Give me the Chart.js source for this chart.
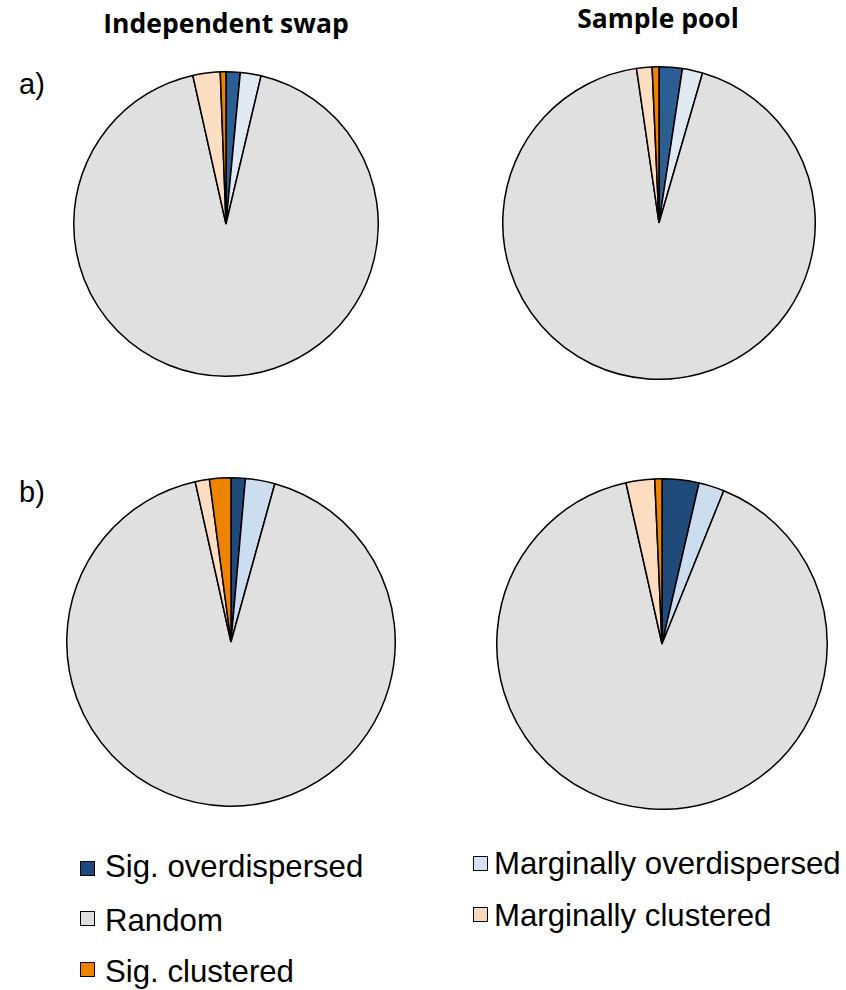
<!DOCTYPE html>
<html>
<head>
<meta charset="utf-8">
<script src="https://cdn.jsdelivr.net/npm/chart.js@4.4.1/dist/chart.umd.min.js"></script>
<style>
  html, body { margin: 0; padding: 0; background: #fff; }
  body { width: 846px; height: 990px; position: relative; font-family: "Liberation Sans", Arial, sans-serif; overflow: hidden; }
  .title { position: absolute; font-family: "Open Sans", sans-serif; font-weight: bold; font-size: 26.5px; line-height: 1; color: #000; transform: translateX(-50%); white-space: nowrap; }
  .panel { position: absolute; font-size: 29px; line-height: 1; color: #000; }
  .box { position: absolute; }
  .legtext { position: absolute; font-size: 31.2px; line-height: 1; color: #000; white-space: nowrap; }
  .sw { position: absolute; width: 13px; height: 13px; border: 1.5px solid #000; }
</style>
</head>
<body>
<div class="title" style="left:226px; top:10px;">Independent swap</div>
<div class="title" style="left:658px; top:5px;">Sample pool</div>
<div class="panel" style="left:19px; top:70px;">a)</div>
<div class="panel" style="left:19px; top:478px;">b)</div>

<div class="box" style="left:73px; top:71px; width:306px; height:306px;"><canvas id="pieA1"></canvas></div>
<div class="box" style="left:502px; top:66px; width:314px; height:314px;"><canvas id="pieA2"></canvas></div>
<div class="box" style="left:66px; top:477px; width:330px; height:330px;"><canvas id="pieB1"></canvas></div>
<div class="box" style="left:496px; top:478px; width:332px; height:332px;"><canvas id="pieB2"></canvas></div>

<div id="legend"></div>

<script>
const categories = ['Sig. overdispersed', 'Marginally overdispersed', 'Random', 'Marginally clustered', 'Sig. clustered'];

// percent of communities in each category (clockwise from top)
const swapA = [1.5, 2.2, 92.8, 2.9, 0.6];
const poolA = [2.4, 2.1, 93.2, 1.6, 0.7];
const swapB = [1.4, 2.9, 92.2, 1.4, 2.1];
const poolB = [3.6, 2.5, 90.4, 2.8, 0.7];

const colorsTop = ['#2C5E94', '#E1E9F3', '#E0E0E0', '#FCDEC3', '#EF8200'];
const colorsBottom = ['#1F4A7A', '#CDDDF0', '#E0E0E0', '#FCDDC2', '#EE8300'];
const legendColors = ['#1F497D', '#D6E2F2', '#DEDEDE', '#FBD8BB', '#EE8100'];

function drawPie(id, values, colors) {
    const ctx = document.getElementById(id).getContext('2d');
    return new Chart(ctx, {
        type: 'pie',
        data: {
            labels: categories,
            datasets: [{
                data: values,
                backgroundColor: colors,
                borderColor: '#000',
                borderWidth: 1.5
            }]
        },
        options: {
            responsive: true,
            maintainAspectRatio: true,
            aspectRatio: 1,
            animation: false,
            layout: { padding: 0 },
            plugins: {
                legend: { display: false },
                tooltip: { enabled: false }
            }
        }
    });
}

drawPie('pieA1', swapA, colorsTop);
drawPie('pieA2', poolA, colorsTop);
drawPie('pieB1', swapB, colorsBottom);
drawPie('pieB2', poolB, colorsBottom);

// legend, two columns as in the figure: [swatch x, swatch y, text x, text top]
const legendPos = [
    [80, 861, 105, 851],
    [473, 856, 494, 848],
    [80, 911, 105, 905],
    [473, 907, 494, 900],
    [80, 962, 105, 956]
];
const legendEl = document.getElementById('legend');
categories.forEach((name, i) => {
    const p = legendPos[i];
    const sw = document.createElement('div');
    sw.className = 'sw';
    sw.style.left = p[0] + 'px';
    sw.style.top = p[1] + 'px';
    sw.style.background = legendColors[i];
    legendEl.appendChild(sw);
    const t = document.createElement('div');
    t.className = 'legtext';
    t.style.left = p[2] + 'px';
    t.style.top = p[3] + 'px';
    t.textContent = name;
    legendEl.appendChild(t);
});
</script>
</body>
</html>
